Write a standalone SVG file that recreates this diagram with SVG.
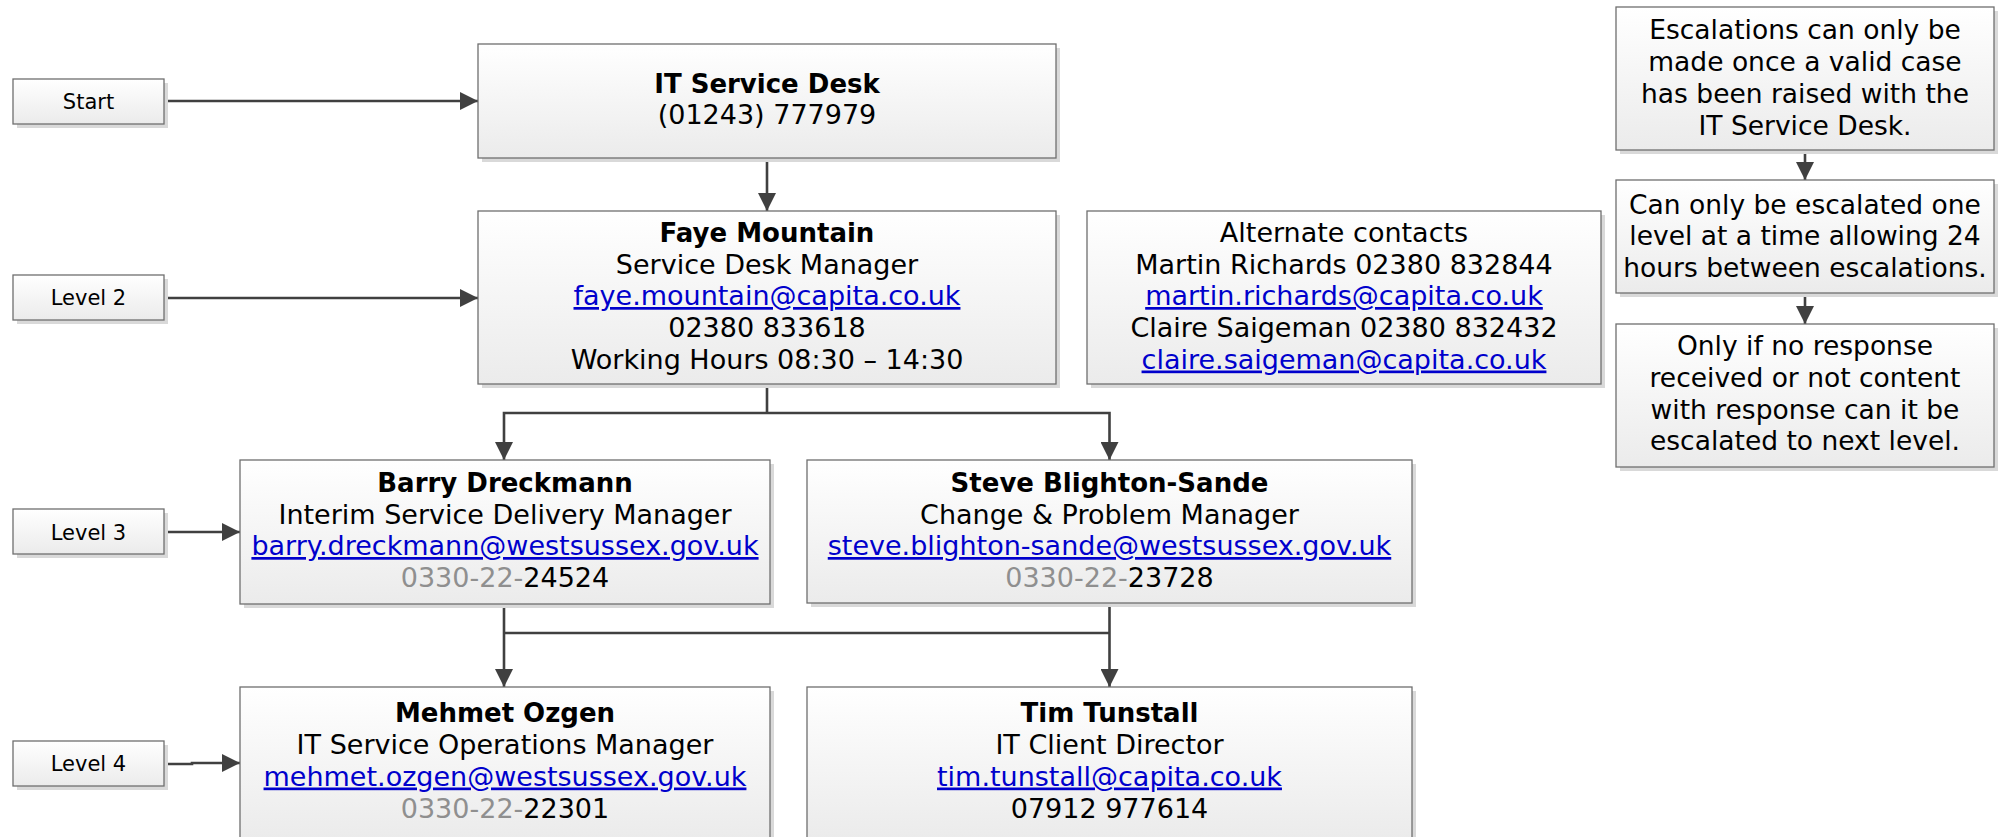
<svg xmlns="http://www.w3.org/2000/svg" width="2001" height="837" viewBox="0 0 2001 837">
  <defs>
    <linearGradient id="boxFill" x1="0" y1="0" x2="0" y2="1">
      <stop offset="0" stop-color="#ffffff"/>
      <stop offset="1" stop-color="#ebebeb"/>
    </linearGradient>
    <marker id="arrow" viewBox="0 0 18 18" refX="18" refY="9" markerWidth="18" markerHeight="18" markerUnits="userSpaceOnUse" orient="auto">
      <path d="M0,0 L18,9 L0,18 Z" fill="#404040"/>
    </marker>
    <style>
      .box { fill: url(#boxFill); stroke: #6f6f6f; stroke-width: 1.3; }
      .shadow { fill: #d9d9d9; }
      text { font-family: "DejaVu Sans", Verdana, sans-serif; fill: #000; text-anchor: middle; }
      .t { font-size: 27px; }
      .b { font-size: 26px; font-weight: bold; }
      .note { font-size: 26.5px; }
      .lbl { font-size: 21px; }
      .link { fill: #0000cc; text-decoration: underline; }
      .grey { fill: #8f8f8f; }
      .conn { fill: none; stroke: #404040; stroke-width: 2.6; }
    </style>
  </defs>

  <rect width="2001" height="837" fill="#ffffff"/>

  <!-- connectors -->
  <g id="connectors">
    <path class="conn" d="M164,101 H478" marker-end="url(#arrow)"/>
    <path class="conn" d="M164,298 H478" marker-end="url(#arrow)"/>
    <path class="conn" d="M164,532 H240" marker-end="url(#arrow)"/>
    <path class="conn" d="M164,764 H192 V763 H240" marker-end="url(#arrow)"/>
    <path class="conn" d="M767,158 V211" marker-end="url(#arrow)"/>
    <path class="conn" d="M767,384 V413"/>
    <path class="conn" d="M767,413 H504 V460" marker-end="url(#arrow)"/>
    <path class="conn" d="M767,413 H1109.5 V460" marker-end="url(#arrow)"/>
    <path class="conn" d="M504,604 V687" marker-end="url(#arrow)"/>
    <path class="conn" d="M1109.5,603 V687" marker-end="url(#arrow)"/>
    <path class="conn" d="M504,633 H1109.5"/>
    <path class="conn" d="M1805,150 V180" marker-end="url(#arrow)"/>
    <path class="conn" d="M1805,293 V324" marker-end="url(#arrow)"/>
  </g>

  <!-- left-hand level markers -->
  <g id="start">
    <rect class="shadow" x="17" y="83" width="151" height="45"/>
    <rect class="box" x="13" y="79" width="151" height="45"/>
    <text class="lbl" x="88.5" y="108.5">Start</text>
  </g>
  <g id="level2">
    <rect class="shadow" x="17" y="279" width="151" height="45"/>
    <rect class="box" x="13" y="275" width="151" height="45"/>
    <text class="lbl" x="88.5" y="305">Level 2</text>
  </g>
  <g id="level3">
    <rect class="shadow" x="17" y="513" width="151" height="45"/>
    <rect class="box" x="13" y="509" width="151" height="45"/>
    <text class="lbl" x="88.5" y="539.5">Level 3</text>
  </g>
  <g id="level4">
    <rect class="shadow" x="17" y="745" width="151" height="45"/>
    <rect class="box" x="13" y="741" width="151" height="45"/>
    <text class="lbl" x="88.5" y="771">Level 4</text>
  </g>

  <!-- contact boxes -->
  <g id="service-desk">
    <rect class="shadow" x="482" y="48" width="578" height="114"/>
    <rect class="box" x="478" y="44" width="578" height="114"/>
    <text class="b" x="767" y="92.5">IT Service Desk</text>
    <text class="t" x="767" y="123.5">(01243) 777979</text>
  </g>

  <g id="faye-mountain">
    <rect class="shadow" x="482" y="215" width="578" height="173"/>
    <rect class="box" x="478" y="211" width="578" height="173"/>
    <text class="b" x="767" y="242">Faye Mountain</text>
    <text class="t" x="767" y="273.5">Service Desk Manager</text>
    <text class="t link" x="767" y="305">faye.mountain@capita.co.uk</text>
    <text class="t" x="767" y="337">02380 833618</text>
    <text class="t" x="767" y="369">Working Hours 08:30 – 14:30</text>
  </g>

  <g id="alternate-contacts">
    <rect class="shadow" x="1091" y="215" width="514" height="173"/>
    <rect class="box" x="1087" y="211" width="514" height="173"/>
    <text class="t" x="1344" y="242">Alternate contacts</text>
    <text class="t" x="1344" y="273.5">Martin Richards 02380 832844</text>
    <text class="t link" x="1344" y="305">martin.richards@capita.co.uk</text>
    <text class="t" x="1344" y="337">Claire Saigeman 02380 832432</text>
    <text class="t link" x="1344" y="368.5">claire.saigeman@capita.co.uk</text>
  </g>

  <g id="barry-dreckmann">
    <rect class="shadow" x="244" y="464" width="530" height="144"/>
    <rect class="box" x="240" y="460" width="530" height="144"/>
    <text class="b" x="505" y="491.5">Barry Dreckmann</text>
    <text class="t" x="505" y="523.5">Interim Service Delivery Manager</text>
    <text class="t link" x="505" y="555">barry.dreckmann@westsussex.gov.uk</text>
    <text class="t" x="505" y="586.5"><tspan class="grey">0330-22-</tspan>24524</text>
  </g>

  <g id="steve-blighton-sande">
    <rect class="shadow" x="811" y="464" width="605" height="143"/>
    <rect class="box" x="807" y="460" width="605" height="143"/>
    <text class="b" x="1109.5" y="491.5">Steve Blighton-Sande</text>
    <text class="t" x="1109.5" y="523.5">Change &amp; Problem Manager</text>
    <text class="t link" x="1109.5" y="555">steve.blighton-sande@westsussex.gov.uk</text>
    <text class="t" x="1109.5" y="586.5"><tspan class="grey">0330-22-</tspan>23728</text>
  </g>

  <g id="mehmet-ozgen">
    <rect class="shadow" x="244" y="691" width="530" height="152"/>
    <rect class="box" x="240" y="687" width="530" height="152"/>
    <text class="b" x="505" y="721.5">Mehmet Ozgen</text>
    <text class="t" x="505" y="754">IT Service Operations Manager</text>
    <text class="t link" x="505" y="785.5">mehmet.ozgen@westsussex.gov.uk</text>
    <text class="t" x="505" y="817.5"><tspan class="grey">0330-22-</tspan>22301</text>
  </g>

  <g id="tim-tunstall">
    <rect class="shadow" x="811" y="691" width="605" height="152"/>
    <rect class="box" x="807" y="687" width="605" height="152"/>
    <text class="b" x="1109.5" y="721.5">Tim Tunstall</text>
    <text class="t" x="1109.5" y="754">IT Client Director</text>
    <text class="t link" x="1109.5" y="785.5">tim.tunstall@capita.co.uk</text>
    <text class="t" x="1109.5" y="817.5">07912 977614</text>
  </g>

  <!-- escalation rules -->
  <g id="rule-valid-case">
    <rect class="shadow" x="1620" y="11" width="378" height="143"/>
    <rect class="box" x="1616" y="7" width="378" height="143"/>
    <text class="note" x="1805" y="38.5">Escalations can only be</text>
    <text class="note" x="1805" y="70.5">made once a valid case</text>
    <text class="note" x="1805" y="102.5">has been raised with the</text>
    <text class="note" x="1805" y="134.5">IT Service Desk.</text>
  </g>

  <g id="rule-one-level">
    <rect class="shadow" x="1620" y="184" width="378" height="113"/>
    <rect class="box" x="1616" y="180" width="378" height="113"/>
    <text class="note" x="1805" y="213.5">Can only be escalated one</text>
    <text class="note" x="1805" y="245">level at a time allowing 24</text>
    <text class="note" x="1805" y="276.5">hours between escalations.</text>
  </g>

  <g id="rule-no-response">
    <rect class="shadow" x="1620" y="328" width="378" height="143"/>
    <rect class="box" x="1616" y="324" width="378" height="143"/>
    <text class="note" x="1805" y="355">Only if no response</text>
    <text class="note" x="1805" y="386.5">received or not content</text>
    <text class="note" x="1805" y="418.5">with response can it be</text>
    <text class="note" x="1805" y="450">escalated to next level.</text>
  </g>
</svg>
